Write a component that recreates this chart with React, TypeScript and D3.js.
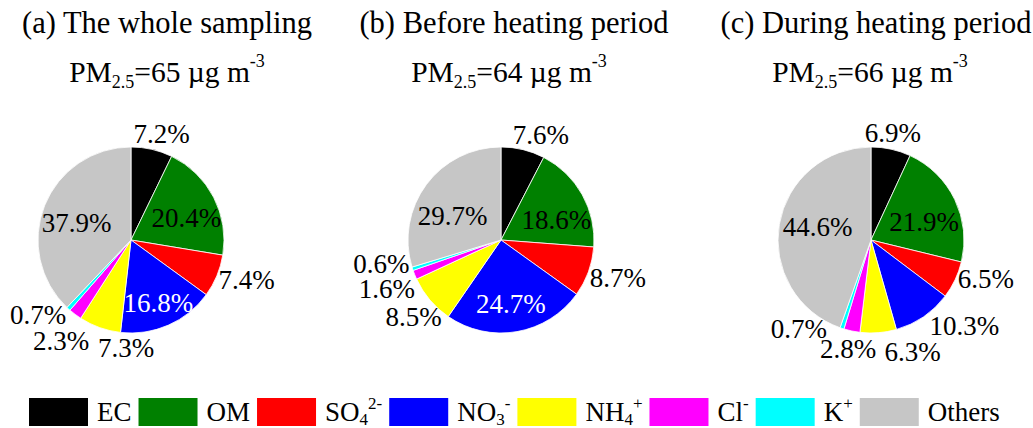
import React, { useEffect, useRef } from "react";
import * as d3 from "d3";

// PM2.5 chemical composition (% of mass) for three sampling periods
const components = ["EC", "OM", "SO4", "NO3", "NH4", "Cl", "K", "Others"];
const componentColors = ["#000000", "#008000", "#ff0000", "#0000ff", "#ffff00", "#ff00ff", "#00ffff", "#c6c6c6"];
const panelTitles = ["(a) The whole sampling", "(b) Before heating period", "(c) During heating period"];
const pm25Mass = [65, 64, 66];
const shareWhole = [7.2, 20.4, 7.4, 16.8, 7.3, 2.3, 0.7, 37.9];
const shareBefore = [7.6, 18.6, 8.7, 24.7, 8.5, 1.6, 0.6, 29.7];
const shareDuring = [6.9, 21.9, 6.5, 10.3, 6.3, 2.8, 0.7, 44.6];
const shares = [shareWhole, shareBefore, shareDuring];

// Legend labels with chemical sub/superscripts
type Part = { t: string; k?: "sub" | "sup" };
const legendLabels: Part[][] = [
  [{ t: "EC" }],
  [{ t: "OM" }],
  [{ t: "SO" }, { t: "4", k: "sub" }, { t: "2-", k: "sup" }],
  [{ t: "NO" }, { t: "3", k: "sub" }, { t: "-", k: "sup" }],
  [{ t: "NH" }, { t: "4", k: "sub" }, { t: "+", k: "sup" }],
  [{ t: "Cl" }, { t: "-", k: "sup" }],
  [{ t: "K" }, { t: "+", k: "sup" }],
  [{ t: "Others" }],
];

// Label placement per slice: radius (px) and angular nudge (deg) from the slice middle
const labelLayout: [number, number][][] = [
  [[111, 3], [60, 5], [122, -4], [68, 0], [108, -17], [122, -2], [119, 9], [57, -4]],
  [[113, 7], [59, 9], [123, -2], [64, 1], [116, -1], [124, -1], [122, 7], [54, -10]],
  [[110, -1], [56, 7], [121, -7], [127, -13], [119, -16], [111, 0], [114, 21], [55, 4]],
];
const whiteLabel = [[3], [3], []];
const titleShift = [[36, 36], [13, 8], [5, -1]];

const FONT = "Liberation Serif, Times New Roman, Times, DejaVu Serif, serif";

export default function App() {
  const ref = useRef<SVGSVGElement>(null);

  useEffect(() => {
    const svg = d3.select(ref.current);
    svg.selectAll("*").remove();

    const radius = 93;
    const cy = 240;
    const xPanel = d3.scalePoint<number>().domain([0, 1, 2]).range([131, 871]);
    const pie = d3.pie<number>().sort(null).value((d) => d).startAngle(0).endAngle(2 * Math.PI);
    const arc = d3.arc<d3.PieArcDatum<number>>().innerRadius(0).outerRadius(radius);

    shares.forEach((vals, p) => {
      const cx = xPanel(p)!;
      const g = svg.append("g").attr("transform", `translate(${cx},${cy})`);
      const arcs = pie(vals);
      g.selectAll("path")
        .data(arcs)
        .join("path")
        .attr("d", arc)
        .attr("fill", (_, i) => componentColors[i])
        .attr("stroke", "#ffffff")
        .attr("stroke-width", 0.8);

      g.selectAll("text.lbl")
        .data(arcs)
        .join("text")
        .attr("class", "lbl")
        .attr("font-family", FONT)
        .attr("text-anchor", "middle")
        .attr("dy", "0.35em")
        .attr("font-size", 27)
        .attr("fill", (_, i) => (whiteLabel[p].includes(i) ? "#ffffff" : "#000000"))
        .attr("x", (d, i) => {
          const [r, da] = labelLayout[p][i];
          const a = (d.startAngle + d.endAngle) / 2 + (da * Math.PI) / 180;
          return r * Math.sin(a);
        })
        .attr("y", (d, i) => {
          const [r, da] = labelLayout[p][i];
          const a = (d.startAngle + d.endAngle) / 2 + (da * Math.PI) / 180;
          return -r * Math.cos(a);
        })
        .text((d) => `${d.data.toFixed(1)}%`);

      // Panel titles
      svg
        .append("text")
        .attr("font-family", FONT)
        .attr("x", cx + titleShift[p][0])
        .attr("y", 33)
        .attr("text-anchor", "middle")
        .attr("font-size", 30.5)
        .text(panelTitles[p]);

      const t2 = svg
        .append("text")
        .attr("font-family", FONT)
        .attr("x", cx + titleShift[p][1])
        .attr("y", 82)
        .attr("text-anchor", "middle")
        .attr("font-size", 29.5);
      t2.append("tspan").text("PM");
      t2.append("tspan").attr("font-size", 18).attr("dy", 6).text("2.5");
      t2.append("tspan").attr("dy", -6).text(`=${pm25Mass[p]} \u00b5g m`);
      t2.append("tspan").attr("font-size", 18).attr("dy", -15).text("-3");
    });

    // Legend row, laid out from the measured label widths
    const legend = svg.append("g");
    let x = 29;
    const boxW = 59;
    const boxH = 28;
    components.forEach((_, i) => {
      legend
        .append("rect")
        .attr("x", x)
        .attr("y", 398)
        .attr("width", boxW)
        .attr("height", boxH)
        .attr("fill", componentColors[i]);
      const t = legend
        .append("text")
        .attr("font-family", FONT)
        .attr("x", x + boxW + 9)
        .attr("y", 421)
        .attr("font-size", 27);
      legendLabels[i].forEach((part, j) => {
        const prev = j > 0 ? legendLabels[i][j - 1].k : undefined;
        let dy = 0;
        if (part.k === "sub") dy = 4;
        else if (part.k === "sup") dy = prev === "sub" ? -16 : -12;
        else if (prev === "sub") dy = -4;
        else if (prev === "sup") dy = 12;
        const ts = t.append("tspan").text(part.t);
        if (dy) ts.attr("dy", dy);
        if (part.k) ts.attr("font-size", 17);
      });
      const w = (t.node() as SVGTextElement).getComputedTextLength();
      x = x + boxW + 9 + w + 7;
    });
  }, []);

  return (
    <svg
      ref={ref}
      width={1033}
      height={428}
      style={{ position: "absolute", left: 0, top: 0, background: "#ffffff", fontFamily: FONT }}
    />
  );
}
